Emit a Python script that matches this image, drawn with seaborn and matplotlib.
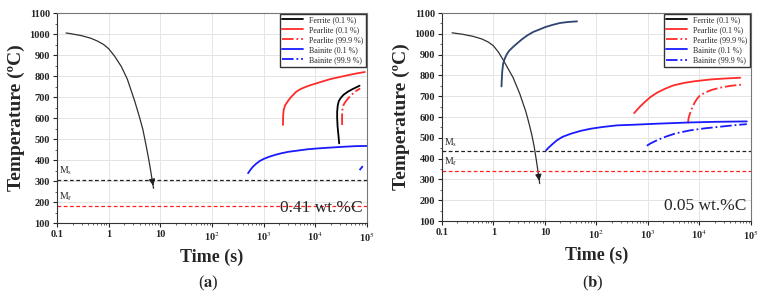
import numpy as np
import pandas as pd
import matplotlib
matplotlib.use("Agg")
import matplotlib.pyplot as plt
from matplotlib.lines import Line2D
from matplotlib.ticker import FixedLocator, FixedFormatter, MultipleLocator, LogLocator, NullFormatter
import seaborn as sns

# ---- panel (a): 0.41 wt.%C ----
a_cool_t = [0.15, 0.2, 0.3, 0.45, 0.6, 0.8, 1.0, 1.3, 1.76, 2.3, 3.2, 4.0, 4.6, 5.3, 6.0, 6.6, 7.0, 7.4]
a_cool_T = [1005, 1000, 992, 980, 967, 950, 930, 895, 845, 785, 680, 600, 545, 470, 400, 340, 300, 265]
a_ferr_t = [29000, 28000, 27000, 26500, 26500, 27200, 28500, 31000, 35000, 42500, 52000, 62000, 72000]
a_ferr_T = [479, 520, 560, 600, 630, 660, 680, 695, 710, 725, 737, 746, 754]
a_pear1_t = [2370, 2375, 2390, 2450, 2600, 2760, 3100, 3400, 4270, 5200, 6500, 8200, 10500,
             15000, 20000, 29500, 45000, 65000, 91000]
a_pear1_T = [567, 590, 615, 640, 660, 670, 688, 700, 725, 738, 748, 757, 765,
             777, 786, 795, 805, 813, 819]
a_pear9_t = [33000, 33000, 33500, 35000, 37000, 42000, 50000, 60000, 74000]
a_pear9_T = [567, 610, 640, 660, 672, 690, 710, 727, 741]
a_bain1_t = [500, 550, 620, 730, 850, 1000, 1300, 1700, 2200, 3000, 4300, 7000, 11000,
             19000, 35000, 60000, 98000]
a_bain1_T = [337, 352, 368, 384, 396, 405, 416, 425, 432, 439, 444, 451, 455,
             459, 463, 466, 467]
a_bain9_t = [72000, 83000]
a_bain9_T = [352, 371]
a_Ms, a_Mf = 305, 182

# ---- panel (b): 0.05 wt.%C ----
b_cool_t = [0.157, 0.25, 0.4, 0.6, 0.8, 1.0, 1.25, 1.54, 2.0, 2.4, 2.8, 3.24, 3.7, 4.2,
            4.6, 5.1, 5.6, 6.2, 6.8, 7.3, 7.9]
b_cool_T = [1005, 998, 988, 975, 960, 942, 912, 875, 825, 790, 750, 712, 670, 630,
            595, 552, 510, 455, 392, 340, 280]
b_ferr_t = [1.43, 1.45, 1.48, 1.54, 1.65, 1.8, 2.0, 2.4, 3.0, 3.5, 4.5, 5.9, 8, 10, 14,
            19.5, 28, 42]
b_ferr_T = [747, 780, 820, 856, 880, 900, 918, 937, 958, 972, 992, 1009, 1022, 1032, 1043,
            1052, 1057, 1060]
b_pear1_t = [540, 600, 700, 850, 1100, 1500, 2100, 3100, 5000, 7500, 10200, 17000, 30000, 62000]
b_pear1_T = [619, 632, 650, 670, 695, 717, 735, 752, 764, 771, 775, 781, 785, 789]
b_pear9_t = [6000, 6100, 6400, 7100, 8000, 9000, 10200, 13000, 17000, 25000, 40000, 72000]
b_pear9_T = [570, 590, 610, 640, 668, 688, 704, 718, 730, 741, 750, 757]
b_bain1_t = [10.5, 12, 14, 17, 22, 32, 50, 78, 130, 250, 520, 1500, 6400, 20000, 83000]
b_bain1_T = [440, 455, 470, 488, 505, 520, 534, 544, 552, 560, 563, 568, 574, 577, 579]
b_bain9_t = [950, 1100, 1400, 1800, 2300, 3500, 6600, 12000, 22000, 45000, 83000]
b_bain9_T = [462, 472, 485, 497, 507, 522, 536, 545, 552, 560, 566]
b_Ms, b_Mf = 435, 342

RED = "#ff2a2a"
BLUE = "#1a1aff"
NAVY = "#2e4470"

sns.set_style("whitegrid")
plt.rcParams["font.family"] = ["Liberation Serif", "DejaVu Serif"]
plt.rcParams["mathtext.fontset"] = "stix"

fig = plt.figure(figsize=(7.68, 3.07), dpi=100)
ax_a = fig.add_axes([0.0742, 0.2736, 0.4036, 0.684])
ax_b = fig.add_axes([0.5755, 0.280, 0.4023, 0.6775])


def draw(ax, t, T, color, ls="-", lw=1.3):
    df = pd.DataFrame({"t": t, "T": T})
    sns.lineplot(data=df, x="t", y="T", ax=ax, color=color, linestyle=ls,
                 linewidth=lw, sort=False, estimator=None)


def panel(ax, d, ferr_color, txt, letter):
    ax.set_xscale("log")
    ax.set_xlim(0.1, 1e5)
    ax.set_ylim(100, 1100)
    draw(ax, d["cool_t"], d["cool_T"], "#303030", lw=0.9)
    ax.annotate("", xy=(d["cool_t"][-1], d["cool_T"][-1]),
                xytext=(d["cool_t"][-2], d["cool_T"][-2]),
                arrowprops=dict(arrowstyle="-|>", color="#202020", lw=0.9,
                                mutation_scale=9))
    draw(ax, d["ferr_t"], d["ferr_T"], ferr_color)
    draw(ax, d["pear1_t"], d["pear1_T"], RED)
    draw(ax, d["pear9_t"], d["pear9_T"], RED, ls="-.")
    draw(ax, d["bain1_t"], d["bain1_T"], BLUE)
    draw(ax, d["bain9_t"], d["bain9_T"], BLUE, ls="-.")
    ax.axhline(d["Ms"], color="#222222", ls=(0, (3, 2)), lw=0.9)
    ax.axhline(d["Mf"], color="#ff2020", ls=(0, (3, 2)), lw=0.9)
    ax.text(0.11, d["Ms"] + 12, "M$_\\mathrm{s}$", fontsize=7, va="bottom")
    ax.text(0.11, d["Mf"] + 12, "M$_\\mathrm{f}$", fontsize=7, va="bottom")
    ax.text(0.985, 0.035, txt, transform=ax.transAxes, ha="right",
            va="bottom", fontsize=12.5)

    ax.xaxis.set_major_locator(FixedLocator([0.1, 1, 10, 1e2, 1e3, 1e4, 1e5]))
    ax.xaxis.set_major_formatter(FixedFormatter(
        ["0.1", "1", "10", "10$^2$", "10$^3$", "10$^4$", "10$^5$"]))
    ax.xaxis.set_minor_locator(LogLocator(base=10, subs=np.arange(2, 10), numticks=20))
    ax.xaxis.set_minor_formatter(NullFormatter())
    ax.yaxis.set_major_locator(MultipleLocator(100))
    ax.yaxis.set_minor_locator(MultipleLocator(50))
    ax.tick_params(axis="both", which="major", direction="out", length=3,
                   width=0.8, labelsize=7.5, pad=2, bottom=True, left=True)
    ax.tick_params(axis="both", which="minor", direction="out", length=1.5,
                   width=0.5, bottom=True, left=True)
    for lab in ax.get_xticklabels() + ax.get_yticklabels():
        lab.set_fontweight("bold")
    ax.grid(True, which="major", color="#e4e4e4", lw=0.7)
    for s in ax.spines.values():
        s.set_color("#777777")
        s.set_linewidth(0.8)
    ax.spines["left"].set_color("#333333")
    ax.spines["bottom"].set_color("#333333")
    ax.set_xlabel("Time (s)", fontsize=13, fontweight="bold", labelpad=4)
    ax.set_ylabel("Temperature (\u00baC)", fontsize=14, fontweight="bold", labelpad=3)

    handles = [Line2D([], [], color="black", lw=1.3),
               Line2D([], [], color=RED, lw=1.3),
               Line2D([], [], color=RED, lw=1.3, ls="-."),
               Line2D([], [], color=BLUE, lw=1.3),
               Line2D([], [], color=BLUE, lw=1.3, ls="-.")]
    labels = ["Ferrite (0.1 %)", "Pearlite (0.1 %)", "Pearlite (99.9 %)",
              "Bainite (0.1 %)", "Bainite (99.9 %)"]
    leg = ax.legend(handles, labels, loc="upper right", fontsize=5.8,
                    frameon=True, fancybox=False, borderpad=0.3,
                    labelspacing=0.25, handlelength=2.6, handletextpad=0.8,
                    borderaxespad=0.1)
    leg.get_frame().set_edgecolor("#333333")
    leg.get_frame().set_linewidth(1.0)
    leg.get_frame().set_alpha(1)

    fig.text(ax.get_position().x0 + ax.get_position().width / 2 - 0.005, 0.045,
             "(" + "$\\mathbf{" + letter + "}$" + ")", ha="center",
             va="bottom", fontsize=12)


da = dict(cool_t=a_cool_t, cool_T=a_cool_T, ferr_t=a_ferr_t, ferr_T=a_ferr_T,
          pear1_t=a_pear1_t, pear1_T=a_pear1_T, pear9_t=a_pear9_t, pear9_T=a_pear9_T,
          bain1_t=a_bain1_t, bain1_T=a_bain1_T, bain9_t=a_bain9_t, bain9_T=a_bain9_T,
          Ms=a_Ms, Mf=a_Mf)
db = dict(cool_t=b_cool_t, cool_T=b_cool_T, ferr_t=b_ferr_t, ferr_T=b_ferr_T,
          pear1_t=b_pear1_t, pear1_T=b_pear1_T, pear9_t=b_pear9_t, pear9_T=b_pear9_T,
          bain1_t=b_bain1_t, bain1_T=b_bain1_T, bain9_t=b_bain9_t, bain9_T=b_bain9_T,
          Ms=b_Ms, Mf=b_Mf)

panel(ax_a, da, "black", "0.41 wt.%C", "a")
panel(ax_b, db, NAVY, "0.05 wt.%C", "b")

fig.savefig("out.png", dpi=100)
